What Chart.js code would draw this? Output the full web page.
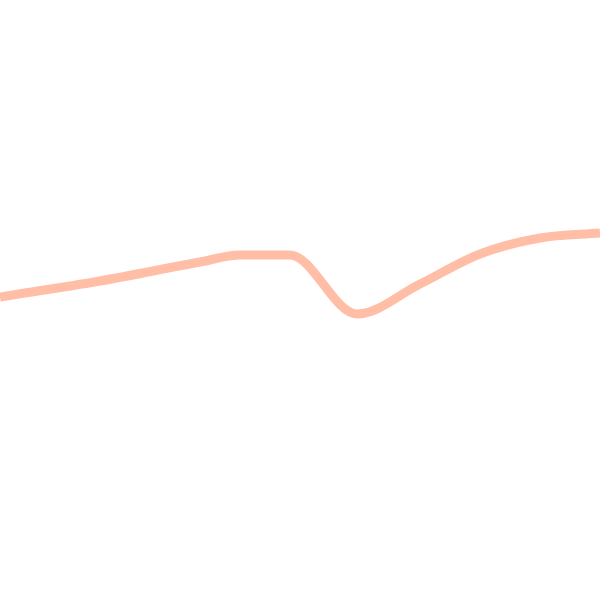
<!DOCTYPE html>
<html>
<head>
<meta charset="utf-8">
<script src="https://cdn.jsdelivr.net/npm/chart.js"></script>
<style>
  html, body { margin: 0; padding: 0; background: #fff; }
  #wrap { width: 600px; height: 600px; position: relative; }
</style>
</head>
<body>
<div id="wrap"><canvas id="myChart"></canvas></div>
<script>
const xValues = [0, 100, 200, 240, 290, 357, 420, 480, 540, 600];
const yValues = [303, 319, 338, 345, 345, 286, 316, 346, 362, 367];

new Chart("myChart", {
  type: "line",
  data: {
    datasets: [{
      data: xValues.map((x, i) => ({ x: x, y: yValues[i] })),
      borderColor: "#ffbea5",
      borderWidth: 9,
      pointRadius: 0,
      cubicInterpolationMode: "monotone",
      fill: false
    }]
  },
  options: {
    maintainAspectRatio: false,
    animation: false,
    scales: {
      x: { type: "linear", min: 0, max: 600, display: false },
      y: { min: 0, max: 600, display: false }
    },
    plugins: {
      legend: { display: false },
      tooltip: { enabled: false }
    }
  }
});
</script>
</body>
</html>
